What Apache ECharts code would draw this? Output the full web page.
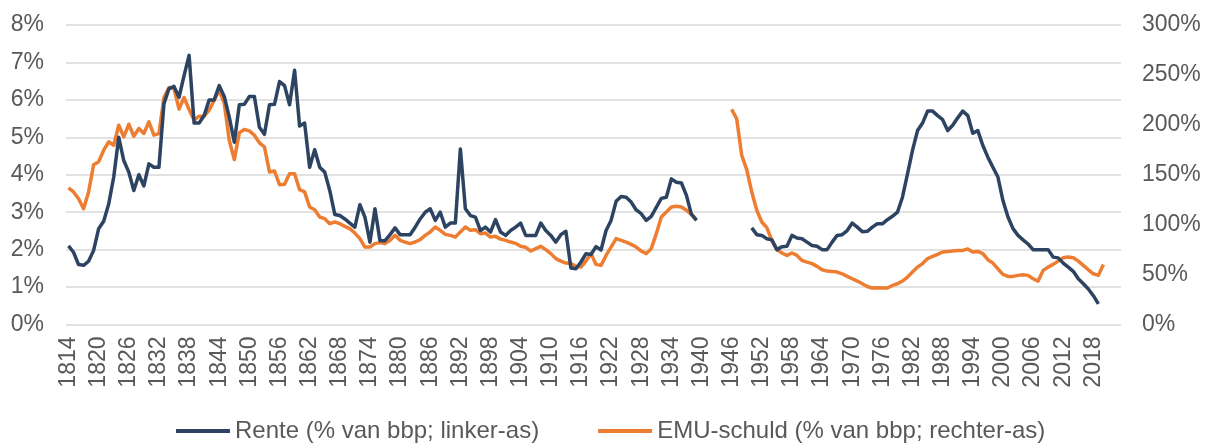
<!DOCTYPE html>
<html><head><meta charset="utf-8">
<script src="https://cdn.jsdelivr.net/npm/echarts@6/dist/echarts.min.js"></script>
<style>html,body{margin:0;padding:0;background:#fff}#c{width:1211px;height:444px}</style>
</head><body><div id="c"></div>
<script>
// categories: years on the x-axis (axis runs one slot per year)
const firstYear = 1814;
const lastYear = 2023;
const years = [];
for (let y = firstYear; y <= lastYear; y++) years.push(String(y));

// Rente (% van bbp; linker-as), 1814..2019, gap 1940-1949
const rente = [
  2.1, 1.93, 1.6, 1.58, 1.69, 1.98,                         // 1814-1819
  2.56, 2.76, 3.22, 3.94, 5.0, 4.38, 4.07, 3.58, 4.0, 3.7,  // 1820s
  4.29, 4.2, 4.2, 5.9, 6.3, 6.36, 6.07, 6.65, 7.19, 5.38,   // 1830s
  5.38, 5.58, 6.0, 6.0, 6.38, 6.09, 5.54, 4.87, 5.87, 5.88, // 1840s
  6.09, 6.09, 5.27, 5.08, 5.87, 5.88, 6.49, 6.38, 5.87, 6.79, // 1850s
  5.3, 5.38, 4.2, 4.67, 4.2, 4.07, 3.58, 2.94, 2.91, 2.82,  // 1860s
  2.71, 2.6, 3.2, 2.87, 2.2, 3.09, 2.24, 2.24, 2.4, 2.58,   // 1870s
  2.4, 2.4, 2.4, 2.6, 2.82, 3.0, 3.09, 2.78, 3.0, 2.6,      // 1880s
  2.71, 2.71, 4.69, 3.09, 2.91, 2.87, 2.51, 2.6, 2.47, 2.8, // 1890s
  2.47, 2.38, 2.51, 2.6, 2.71, 2.38, 2.38, 2.38, 2.71, 2.51, // 1900s
  2.38, 2.2, 2.4, 2.49, 1.51, 1.49, 1.67, 1.89, 1.87, 2.08, // 1910s
  1.99, 2.51, 2.78, 3.29, 3.42, 3.4, 3.27, 3.06, 2.96, 2.78, // 1920s
  2.89, 3.13, 3.37, 3.4, 3.89, 3.8, 3.78, 3.45, 2.94, 2.78, // 1930s
  null, null, null, null, null, null, null, null, null, null, // 1940s
  2.58, 2.4, 2.38, 2.29, 2.26, 2.0, 2.08, 2.09, 2.38, 2.31, // 1950s
  2.29, 2.2, 2.11, 2.09, 2.0, 2.0, 2.2, 2.38, 2.4, 2.51,    // 1960s
  2.71, 2.6, 2.48, 2.49, 2.6, 2.69, 2.69, 2.8, 2.89, 3.0,   // 1970s
  3.4, 4.02, 4.65, 5.18, 5.38, 5.7, 5.7, 5.58, 5.47, 5.18,  // 1980s
  5.32, 5.52, 5.7, 5.58, 5.11, 5.18, 4.78, 4.47, 4.2, 3.94, // 1990s
  3.31, 2.87, 2.56, 2.38, 2.26, 2.15, 2.0, 2.0, 2.0, 2.0,   // 2000s
  1.8, 1.78, 1.64, 1.53, 1.42, 1.22, 1.09, 0.95, 0.77, 0.55 // 2010s
];

// EMU-schuld (% van bbp; rechter-as), 1814..2020, gap 1940-1945
const emuSchuld = [
  136.8, 132.8, 126, 116, 132.8, 160,                        // 1814-1819
  163, 174.6, 183, 179.6, 199.6, 188, 200.6, 188.6, 196.3, 191.3, // 1820s
  203, 189.6, 191.3, 227.4, 237.4, 236.4, 215.7, 227.4, 215.4, 204.7, // 1830s
  208.7, 208.7, 214.7, 224.7, 234.8, 221.4, 184.6, 165.2, 192, 195.3, // 1840s
  194, 189.6, 182, 178, 152.8, 153.8, 140, 140.4, 151, 151, // 1850s
  135, 132.8, 117.7, 115, 107.7, 106, 101, 102.7, 101, 98.3, // 1860s
  96, 91.6, 86, 77.6, 77.6, 81, 82, 81, 84.3, 89.3,          // 1870s
  84.3, 82.6, 81, 82.6, 85, 89.3, 92.6, 97.6, 94.3, 90.3,    // 1880s
  89.3, 87.6, 92.6, 97.6, 94.3, 95, 91, 91.6, 87.6, 88.3,    // 1890s
  85.5, 84.3, 82.6, 81.3, 78.3, 77.3, 73.6, 76, 78.3, 75,    // 1900s
  71, 66, 63.5, 61.5, 61, 58.2, 57.5, 63.5, 71, 60.2,        // 1910s
  59.2, 69.2, 77.6, 86, 84.3, 82.6, 80.3, 77.6, 73.6, 71,    // 1920s
  76, 91, 107.7, 112.7, 117.7, 118.4, 117.7, 114.4, 110.4, 105, // 1930s
  null, null, null, null, null, null, 215.4, 206.3, 169.5, 155.2, // 1940s
  132.8, 114.4, 102.7, 97, 84.3, 75, 71.6, 69.2, 71.6, 69.2, // 1950s
  64.2, 62.5, 61, 58.2, 54.8, 53.5, 53.2, 52.5, 50.8, 48.2,  // 1960s
  45.8, 43.5, 40.8, 38.1, 36.5, 36.8, 36.5, 36.5, 39.1, 40.8, // 1970s
  43.5, 47.5, 52.5, 57.5, 61, 66, 68.2, 70.2, 72.6, 73.2,    // 1980s
  73.6, 74.2, 74.2, 75.6, 72.6, 73.2, 71, 64.9, 61.5, 55.8,  // 1990s
  50.2, 48.2, 48.2, 49.2, 49.8, 49.2, 45.8, 43.5, 54.2, 57.5, // 2000s
  60.2, 63.5, 66.9, 67.5, 66.9, 63.5, 59.2, 54.8, 50.8, 49.2, // 2010s
  60.2                                                        // 2020
];

const seriesNames = ['Rente (% van bbp; linker-as)', 'EMU-schuld (% van bbp; rechter-as)'];

const FONT = '"Liberation Sans", Arial, sans-serif';
const TXT = '#595959';
const chart = echarts.init(document.getElementById('c'), null, {renderer: 'canvas'});
chart.setOption({
  animation: false,
  backgroundColor: '#ffffff',
  grid: {left: 66, right: 90, top: 25, bottom: 119.5, containLabel: false},
  legend: {
    data: seriesNames,
    left: 176, top: 418, padding: 0,
    icon: 'rect', itemWidth: 54, itemHeight: 4, itemGap: 59,
    textStyle: {fontFamily: FONT, fontSize: 24, color: TXT, lineHeight: 26}
  },
  xAxis: {
    type: 'category', data: years, boundaryGap: true,
    axisLine: {show: false}, axisTick: {show: false},
    axisLabel: {rotate: 90, interval: 5, margin: 12, fontFamily: FONT, fontSize: 23, color: TXT}
  },
  yAxis: [
    {
      type: 'value', min: 0, max: 8, interval: 1, position: 'left',
      axisLine: {show: false}, axisTick: {show: false},
      axisLabel: {formatter: '{value}%', margin: 22, fontFamily: FONT, fontSize: 23, color: TXT},
      splitLine: {show: true, lineStyle: {color: '#D9D9D9', width: 1.5}}
    },
    {
      type: 'value', min: 0, max: 300, interval: 50, position: 'right',
      axisLine: {show: false}, axisTick: {show: false},
      axisLabel: {formatter: '{value}%', margin: 21, fontFamily: FONT, fontSize: 23, color: TXT},
      splitLine: {show: false}
    }
  ],
  series: [
    {
      name: seriesNames[0], type: 'line', yAxisIndex: 0, data: rente,
      showSymbol: false, symbol: 'none', connectNulls: false, z: 3,
      lineStyle: {color: '#2C4361', width: 3.5, join: 'round'},
      itemStyle: {color: '#2C4361'}
    },
    {
      name: seriesNames[1], type: 'line', yAxisIndex: 1, data: emuSchuld,
      showSymbol: false, symbol: 'none', connectNulls: false, z: 2,
      lineStyle: {color: '#ED7D31', width: 3.5, join: 'round'},
      itemStyle: {color: '#ED7D31'}
    }
  ]
});
</script>
</body></html>
